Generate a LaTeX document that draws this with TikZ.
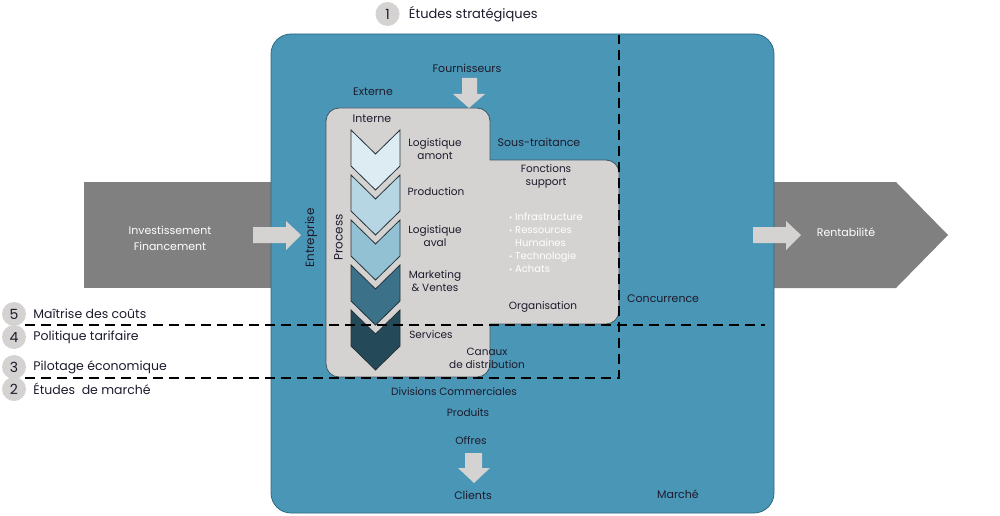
\documentclass[tikz,border=0pt]{standalone}
\usepackage{fontspec}
\setmainfont{Poppins}
\usetikzlibrary{positioning}

\definecolor{marche}{HTML}{4A96B6}
\definecolor{marcheline}{HTML}{2E6881}
\definecolor{paleGray}{HTML}{D4D3D2}
\definecolor{flowGray}{HTML}{808080}
\definecolor{boxline}{HTML}{3C5664}
\definecolor{chevline}{HTML}{26323A}
\definecolor{ink}{HTML}{1E1A2C}
\definecolor{chevA}{HTML}{DDEBF2}
\definecolor{chevB}{HTML}{B7D6E3}
\definecolor{chevC}{HTML}{93C1D4}
\definecolor{chevD}{HTML}{3B7189}
\definecolor{chevE}{HTML}{244A5A}

\newcommand{\smallbullet}{{\fontsize{8}{8}\selectfont\textbullet}\ }

\tikzset{
  txt/.style={text=ink, inner sep=0pt, align=center, font=\fontsize{11}{13}\selectfont},
  smalltxt/.style={txt, font=\fontsize{10.5}{13}\selectfont},
  whitetxt/.style={txt, text=white},
  sidetxt/.style={txt, font=\fontsize{12.5}{14}\selectfont},
  numdot/.style={circle, fill=paleGray, minimum size=24pt, inner sep=0pt, text=ink, font=\fontsize{14}{14}\selectfont},
  boundary/.style={line width=2.8pt, dash pattern=on 10pt off 6pt},
  chevron/.style={draw=chevline, line width=0.8pt},
  blockarrow/.style={fill=paleGray}
}

\begin{document}
\begin{tikzpicture}[x=1pt, y=-1pt]

    \useasboundingbox (0,0) rectangle (1000,516);

    % Flux financiers, entree et sortie
    \fill[flowGray] (84,182) rectangle (272,288);
    \fill[flowGray] (773,182) -- (896,182) -- (948,235) -- (896,288) -- (773,288) -- cycle;

    % Cadre du marche
    \draw[fill=marche, draw=marcheline, line width=0.8pt, rounded corners=20pt] (271,34) rectangle (774,513);

    % Entreprise : interne et fonctions support
    \draw[fill=paleGray, draw=boxline, line width=0.8pt]
        [rounded corners=13pt] (326,377) -- (326,108) -- (490,108)
        [sharp corners] -- (490,160)
        [rounded corners=13pt] -- (619,160) -- (619,324)
        [sharp corners] -- (490,324)
        [rounded corners=13pt] -- (490,377) -- cycle;

    % Chaine de valeur (chevrons)
    \foreach \top/\shade in {130/chevA, 175/chevB, 220/chevC, 265/chevD, 310/chevE}
        \draw[chevron, fill=\shade] (351,\top) -- (375.5,\top+24) -- (400,\top)
            -- (400,\top+36) -- (375.5,\top+60) -- (351,\top+36) -- cycle;

    % Fleches larges
    \fill[blockarrow] (462,78) -- (477,78) -- (477,94) -- (485,94) -- (469,108) -- (453,94) -- (462,94) -- cycle;   % Fournisseurs
    \fill[blockarrow] (465,453) -- (482,453) -- (482,468) -- (490,468) -- (474,483) -- (458,468) -- (465,468) -- cycle; % Offres
    \fill[blockarrow] (253,227) -- (286,227) -- (286,221) -- (301,235) -- (286,250) -- (286,243) -- (253,243) -- cycle; % Investissement
    \fill[blockarrow] (753,227) -- (786,227) -- (786,221) -- (801,235) -- (786,250) -- (786,243) -- (753,243) -- cycle; % Rentabilite

    % Etudes strategiques
    \node[numdot] (n1) at (387.5,14) {1};
    \node[txt, font=\fontsize{13}{15}\selectfont, right=9pt of n1] (strategie) {Études stratégiques};

    % Textes du cadre
    \node[txt] (fournisseurs) at (467,68) {Fournisseurs};
    \node[txt] (externe) at (373,92) {Externe};
    \node[txt] (interne) at (372,118.5) {Interne};
    \node[txt, font=\fontsize{12}{14}\selectfont, rotate=90] (entreprise) at (311,238) {Entreprise};
    \node[txt, font=\fontsize{12}{14}\selectfont, rotate=90] (process) at (338.5,237.5) {Process};

    % Etapes de la chaine
    \node[smalltxt] (amont) at (435,149.5) {Logistique\\amont};
    \node[smalltxt] (production) at (436,192) {Production};
    \node[smalltxt] (aval) at (435,236.5) {Logistique\\aval};
    \node[smalltxt] (marketing) at (435,281.5) {Marketing\\\& Ventes};
    \node[smalltxt] (services) at (431,335) {Services};
    \node[smalltxt] (canaux) at (487,358.5) {Canaux\\de distribution};

    % Fonctions support
    \node[txt] (soustraitance) at (539,142) {Sous-traitance};
    \node[smalltxt] (fonctions) at (546,176.5) {Fonctions\\support};
    \node[whitetxt, font=\fontsize{10}{13}\selectfont, align=left, anchor=west] (supports) at (509,243)
        {\smallbullet Infrastructure\\\smallbullet Ressources\\\phantom{\smallbullet}Humaines\\\smallbullet Technologie\\\smallbullet Achats};
    \node[smalltxt] (organisation) at (543,307) {Organisation};
    \node[txt, anchor=west] (concurrence) at (627,299) {Concurrence};

    % Flux financiers
    \node[whitetxt, font=\fontsize{11}{15.5}\selectfont] (investissement) at (170,238.5) {Investissement\\Financement};
    \node[whitetxt] (rentabilite) at (846,232.5) {Rentabilité};

    % Aval du marche
    \node[smalltxt] (divisions) at (454,392) {Divisions Commerciales};
    \node[smalltxt] (produits) at (468,413) {Produits};
    \node[smalltxt] (offres) at (471,441) {Offres};
    \node[txt] (clients) at (473,495) {Clients};
    \node[txt] (marchetxt) at (678,494.5) {Marché};

    % Niveaux de pilotage
    \node[numdot] (n5) at (14,314) {5};
    \node[numdot] (n4) at (14,337) {4};
    \node[numdot] (n3) at (14,367) {3};
    \node[numdot] (n2) at (14,389) {2};
    \node[sidetxt, right=7pt of n5] (couts) {Maîtrise des coûts};
    \node[sidetxt, right=7pt of n4] (tarifs) {Politique tarifaire};
    \node[sidetxt, right=7pt of n3] (pilotage) {Pilotage économique};
    \node[sidetxt, right=7pt of n2] (etudes) {Études~ de marché};

    % Frontieres en pointilles
    \coordinate (L1) at (25,325);     % Gauche, ligne haute
    \coordinate (R1) at (765,325);    % Droite, ligne haute
    \coordinate (L2) at (25,378);     % Gauche, ligne basse
    \coordinate (C2) at (619,378);    % Coin bas
    \coordinate (T2) at (619,35);     % Haut du cadre
    \draw[boundary] (L1) -- (R1);
    \draw[boundary] (L2) -- (C2) -- (T2);

\end{tikzpicture}
\end{document}
